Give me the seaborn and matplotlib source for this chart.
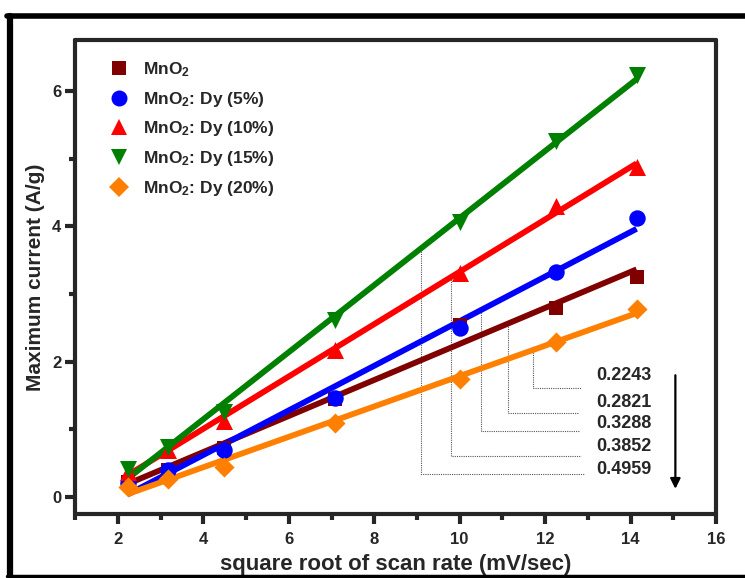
import numpy as np
import pandas as pd
import matplotlib
matplotlib.use("Agg")
import matplotlib.pyplot as plt
from matplotlib.lines import Line2D
from matplotlib.ticker import MultipleLocator
import seaborn as sns

# ---- data ----
sqrt_scan = [2.236, 3.162, 4.472, 7.071, 10.0, 12.247, 14.142]
series_names = ["MnO$_{2}$", "MnO$_{2}$: Dy (5%)", "MnO$_{2}$: Dy (10%)",
                "MnO$_{2}$: Dy (15%)", "MnO$_{2}$: Dy (20%)"]
mno2 = [0.22, 0.40, 0.72, 1.45, 2.55, 2.80, 3.26]
dy5 = [0.20, 0.40, 0.69, 1.46, 2.50, 3.32, 4.13]
dy10 = [0.37, 0.69, 1.13, 2.18, 3.31, 4.30, 4.88]
dy15 = [0.42, 0.74, 1.26, 2.62, 4.06, 5.27, 6.24]
dy20 = [0.15, 0.27, 0.44, 1.09, 1.75, 2.29, 2.78]
series_values = [mno2, dy5, dy10, dy15, dy20]
colors = ["#800000", "#0000FF", "#FF0000", "#008000", "#FF8000"]
markers = ["s", "o", "^", "v", "D"]
marker_sizes = [105, 140, 150, 150, 105]
legend_msizes = [10, 11.5, 12, 12, 10.5]

slope_labels = ["0.2243", "0.2821", "0.3288", "0.3852", "0.4959"]
# series index each slope label belongs to
slope_series = [4, 0, 1, 2, 3]
leader_x = [11.72, 11.13, 10.50, 9.79, 9.09]
leader_y = [1.61, 1.24, 0.97, 0.60, 0.34]
leader_xend = [12.85, 12.80, 12.80, 12.85, 12.90]
label_y = [1.80, 1.39, 1.08, 0.75, 0.41]
label_x = 13.2

x_ticks = [2, 4, 6, 8, 10, 12, 14, 16]
y_ticks = [0, 2, 4, 6]

df = pd.DataFrame({
    "x": np.tile(sqrt_scan, len(series_names)),
    "y": np.concatenate(series_values),
    "s": np.repeat(series_names, len(sqrt_scan)),
})

sns.set_style("ticks")
plt.rcParams["font.family"] = ["Liberation Sans", "DejaVu Sans"]
plt.rcParams["font.weight"] = "bold"
plt.rcParams["mathtext.fontset"] = "custom"
plt.rcParams["mathtext.rm"] = "Liberation Sans:bold"
plt.rcParams["mathtext.bf"] = "Liberation Sans:bold"
plt.rcParams["mathtext.it"] = "Liberation Sans:bold"

fig = plt.figure(figsize=(7.45, 5.78), dpi=100)
ax = fig.add_axes([0.101, 0.111, 0.860, 0.820])

for i, name in enumerate(series_names):
    sub = df[df["s"] == name]
    sns.regplot(data=sub, x="x", y="y", ax=ax, ci=None, color=colors[i],
                marker=markers[i],
                scatter_kws=dict(s=marker_sizes[i], linewidths=0, alpha=1, zorder=3),
                line_kws=dict(lw=4.2, zorder=2, solid_capstyle="butt"))

# leader lines to slope labels
for k, si in enumerate(slope_series):
    p = np.polyfit(sqrt_scan, series_values[si], 1)
    ytop = np.polyval(p, leader_x[k])
    ax.plot([leader_x[k], leader_x[k], leader_xend[k]],
            [ytop, leader_y[k], leader_y[k]],
            color="#555555", lw=0.8, ls=(0, (1, 1)), zorder=1)
    ax.text(label_x, label_y[k], slope_labels[k], fontsize=13,
            fontweight="bold", va="center", ha="left")

ax.annotate("", xy=(15.05, 0.12), xytext=(15.05, 1.80),
            arrowprops=dict(arrowstyle="-|>", color="black", lw=1.6,
                            mutation_scale=15, shrinkA=0, shrinkB=0))

ax.set_xlim(1, 16)
ax.set_ylim(-0.25, 6.76)
ax.set_xticks(x_ticks)
ax.set_yticks(y_ticks)
ax.xaxis.set_minor_locator(MultipleLocator(1))
ax.yaxis.set_minor_locator(MultipleLocator(1))
ax.tick_params(which="major", direction="out", length=7, width=3,
               labelsize=12, pad=3)
ax.tick_params(axis="x", which="major", pad=6)
ax.tick_params(which="minor", direction="out", length=4, width=3)
for lab in ax.get_xticklabels() + ax.get_yticklabels():
    lab.set_fontweight("bold")
for sp in ax.spines.values():
    sp.set_visible(True)
    sp.set_linewidth(3)
    sp.set_capstyle("round")

ax.set_xlabel("square root of scan rate (mV/sec)", fontsize=16,
              fontweight="bold", labelpad=5)
ax.set_ylabel("Maximum current (A/g)", fontsize=15,
              fontweight="bold", labelpad=5)

handles = [Line2D([], [], ls="none", marker=markers[i], color=colors[i],
                  markersize=legend_msizes[i], markeredgewidth=0)
           for i in range(len(series_names))]
ax.legend(handles, series_names, loc="upper left",
          bbox_to_anchor=(0.025, 0.99), frameon=False,
          handletextpad=0.7, labelspacing=0.62, handlelength=1.4,
          prop=dict(weight="bold", size=12.5))

# outer frame (top, left, bottom)
fig.add_artist(Line2D([0.01, 1.05], [0.972, 0.972], color="black", lw=4,
                      transform=fig.transFigure))
fig.add_artist(Line2D([0.013, 0.013], [0.005, 0.972], color="black", lw=4.5,
                      transform=fig.transFigure))
fig.add_artist(Line2D([0.01, 1.05], [0.004, 0.004], color="black", lw=2.5,
                      transform=fig.transFigure))

fig.savefig("out.png", dpi=100)
